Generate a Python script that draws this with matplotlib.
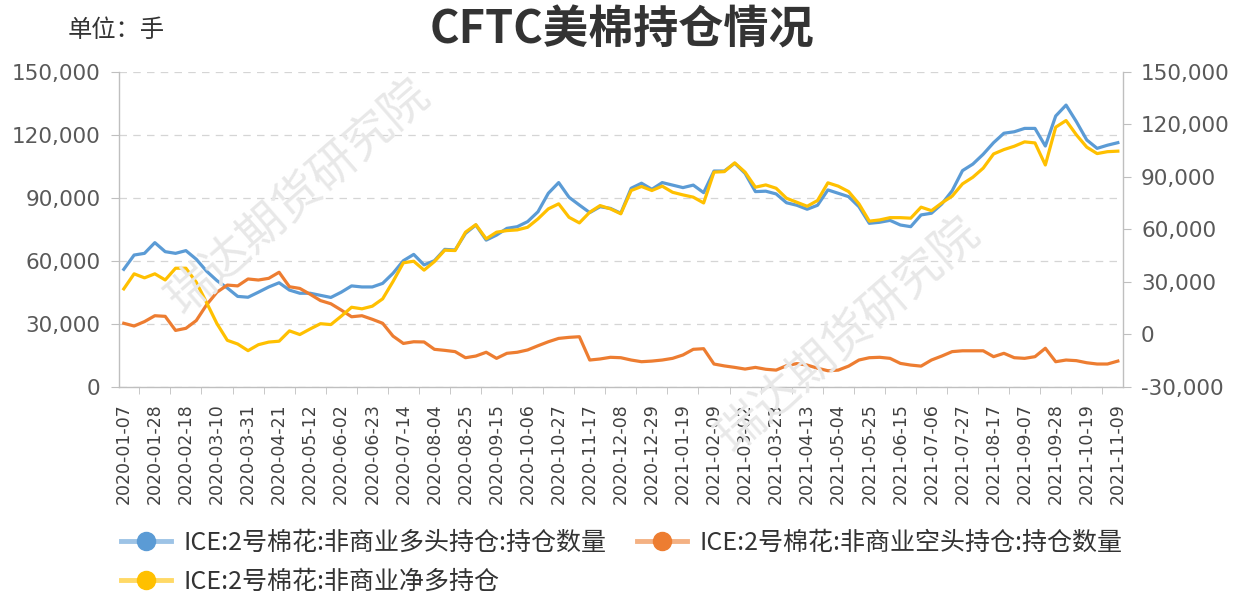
import matplotlib
matplotlib.use("Agg")
import matplotlib.pyplot as plt
import numpy as np
import pandas as pd
from matplotlib.lines import Line2D
from matplotlib.ticker import FuncFormatter

# weekly CFTC report dates
dates = pd.date_range("2020-01-07", periods=97, freq="7D").strftime("%Y-%m-%d").tolist()

# ICE No.2 cotton, non-commercial long positions (lots)
long_pos = [
    55900, 62700, 63500, 68600, 64300, 63500, 64800, 60700, 55000, 50500,
    47000, 43000, 42600, 45000, 47500, 49500, 46000, 44500, 44500, 43500,
    42500, 45000, 48000, 47500, 47500, 49200, 54000, 60000, 63000, 58000,
    60000, 65400, 65100, 73000, 77000, 69800, 72200, 75400, 76200, 78600,
    83300, 92100, 97200, 90200, 86500, 82900, 85700, 84900, 82600, 94500,
    96900, 94000, 97200, 96000, 94800, 96000, 92400, 102700, 102700, 106400,
    101600, 92900, 93100, 91800, 87600, 86400, 84500, 86400, 93700, 92100,
    90500, 85700, 77800, 78300, 79200, 77000, 76200, 81800, 82600, 87000,
    93300, 102900, 106000, 110700, 116200, 120700, 121400, 123000, 123000, 114600,
    128900, 134100, 126200, 117500, 113500, 115000, 116200,
]

# non-commercial short positions (lots)
short_pos = [
    30200, 28900, 31000, 33800, 33500, 26800, 27800, 31500, 39000, 45000,
    48400, 48000, 51300, 50800, 51600, 54500, 47600, 46800, 44000, 41000,
    39500, 36500, 33300, 33800, 32100, 30200, 24100, 20600, 21400, 21300,
    17800, 17300, 16700, 13800, 14600, 16400, 13500, 15900, 16400, 17500,
    19500, 21400, 23000, 23500, 23800, 12700, 13200, 14000, 13800, 12700,
    11900, 12200, 12700, 13500, 15100, 17800, 18100, 10800, 9900, 9200,
    8400, 9200, 8300, 7900, 10000, 11000, 10300, 8800, 7600, 7900,
    9800, 12700, 13800, 14000, 13500, 11100, 10300, 9800, 12700, 14600,
    16700, 17100, 17100, 17100, 14300, 15900, 13800, 13500, 14300, 18300,
    11900, 12700, 12400, 11400, 10800, 10800, 12200,
]

# non-commercial net long (lots), right axis
net_long = [
    25900, 34500, 32200, 34500, 31000, 37700, 37700, 29700, 18000, 6000,
    -3500, -5600, -9400, -6000, -4500, -4000, 1900, -200, 3000, 6000,
    5500, 10300, 15400, 14500, 16000, 20200, 30100, 40800, 41700, 36600,
    41500, 48000, 47800, 58300, 62600, 54500, 58300, 59200, 59600, 61100,
    65900, 71600, 74500, 66800, 63600, 69700, 73500, 71600, 68800, 82100,
    84400, 82100, 84600, 81100, 79600, 78300, 75000, 92600, 92900, 97900,
    92600, 84000, 85300, 83400, 77700, 75400, 73100, 76400, 86500, 84600,
    81500, 74500, 64600, 65300, 66600, 66600, 66300, 72600, 70600, 75000,
    78900, 85900, 89700, 94900, 103000, 105500, 107400, 109900, 109300, 96700,
    118300, 122100, 113900, 106900, 103200, 104300, 104600,
]

names = [
    "ICE:2号棉花:非商业多头持仓:持仓数量",
    "ICE:2号棉花:非商业空头持仓:持仓数量",
    "ICE:2号棉花:非商业净多持仓",
]
colors = ["#5B9BD5", "#ED7D31", "#FFC000"]
light = ["#9DC3E6", "#F4B183", "#FFD966"]

plt.rcParams["font.family"] = ["Noto Sans CJK SC", "DejaVu Sans"]

W, H = 1243, 599
fig = plt.figure(figsize=(W / 100, H / 100), dpi=100)
fig.subplots_adjust(left=118.6 / W, right=1123 / W, top=1 - 71.7 / H, bottom=1 - 386.7 / H)
ax = fig.add_subplot(111)
ax2 = ax.twinx()
ax.set_facecolor("none")
ax2.set_facecolor("none")

# watermark
for cx, cy in [(298, 197), (848, 335)]:
    fig.text(cx / W, 1 - cy / H, "瑞达期货研究院", fontsize=34, color="#e8e8e8",
             rotation=41, ha="center", va="center", rotation_mode="anchor", zorder=0)

x = np.arange(len(dates))
ax.plot(x, long_pos, color=colors[0], lw=2.3, solid_joinstyle="round")
ax.plot(x, short_pos, color=colors[1], lw=2.3, solid_joinstyle="round")
ax2.plot(x, net_long, color=colors[2], lw=2.3, solid_joinstyle="round")

ax.set_xlim(-0.5, len(dates) - 0.5)
ax.set_ylim(0, 150000)
ax2.set_ylim(-30000, 150000)
ax.set_yticks(np.arange(0, 150001, 30000))
ax2.set_yticks(np.arange(-30000, 150001, 30000))
fmt = FuncFormatter(lambda v, p: f"{v:,.0f}")
ax.yaxis.set_major_formatter(fmt)
ax2.yaxis.set_major_formatter(fmt)

ax.yaxis.grid(True, color="#d5d5d5", linestyle=(0, (6, 5)), lw=0.9)
ax.set_axisbelow(True)

axis_col = "#bfbfbf"
for a in (ax, ax2):
    a.spines["top"].set_visible(False)
    for s in a.spines.values():
        s.set_color(axis_col)
        s.set_linewidth(1.0)
ax.spines["right"].set_visible(False)
ax2.spines["left"].set_visible(False)
ax2.spines["bottom"].set_visible(False)

ax.tick_params(axis="y", length=6, color=axis_col, labelsize=15.5, labelcolor="#595959", pad=7)
ax2.tick_params(axis="y", length=6, color=axis_col, labelsize=15.5, labelcolor="#595959", pad=7)
for lab in ax.get_yticklabels() + ax2.get_yticklabels():
    lab.set_fontfamily("DejaVu Sans")

ax.set_xticks(x[::3])
ax.set_xticklabels(dates[::3], rotation=90, fontsize=12.5, color="#404040", fontfamily="DejaVu Sans")
ax.set_xticks(np.arange(1.5, len(dates) - 1, 3), minor=True)
ax.tick_params(axis="x", which="major", length=0, pad=12)
ax.tick_params(axis="x", which="minor", length=5, color=axis_col)

fig.text(622 / W, 1 - 31 / H, "CFTC美棉持仓情况", fontsize=32.5, fontweight="bold",
         color="#333333", ha="center", va="center")
fig.text(68 / W, 1 - 30 / H, "单位：手", fontsize=17.5, color="#333333", ha="left", va="center")

handles = [Line2D([0], [0], color=light[i], lw=3.5, marker="o", markersize=13,
                  markerfacecolor=colors[i], markeredgecolor=colors[i]) for i in range(3)]
order = [0, 2, 1]
fig.legend([handles[i] for i in order], [names[i] for i in order], ncol=2,
           loc="upper left", bbox_to_anchor=(121 / W, 1 - 530 / H), frameon=False,
           fontsize=18, handlelength=2.0, handletextpad=0.5, columnspacing=1.2,
           labelspacing=0.5, borderpad=0, borderaxespad=0, labelcolor="#333333")

fig.savefig("out.png", dpi=100)
